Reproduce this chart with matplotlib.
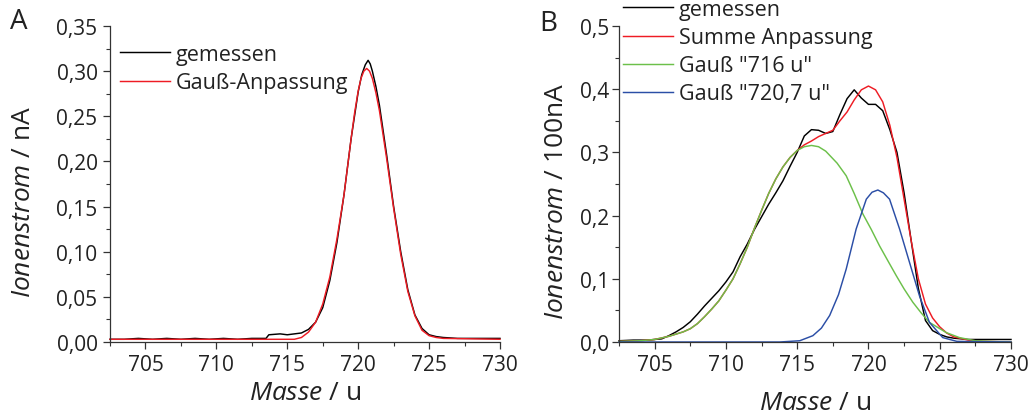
import matplotlib
matplotlib.use("Agg")
import matplotlib.pyplot as plt
from matplotlib.ticker import MultipleLocator, FixedLocator, FixedFormatter

plt.rcParams['font.family'] = ['Open Sans', 'DejaVu Sans']
plt.rcParams['mathtext.fontset'] = 'custom'
plt.rcParams['mathtext.rm'] = 'Open Sans'
plt.rcParams['mathtext.it'] = 'Open Sans:italic'

# ---------------- Panel A data ----------------
a_meas_x = [702.5, 703.5, 704.5, 705.5, 706.5, 707.5, 708.5, 709.5, 710.5, 711.5, 712.5, 713.5,
            713.7, 714.5, 715.0, 715.5, 716.0, 716.5, 717.0, 717.5, 718.0, 718.5, 719.0, 719.5,
            720.0, 720.25, 720.5, 720.7, 720.85, 721.0, 721.25, 721.5, 722.0, 722.5, 723.0, 723.5,
            724.0, 724.5, 725.0, 725.5, 726.0, 727.0, 728.0, 729.0, 730.0]
a_meas_y = [0.003, 0.003, 0.004, 0.003, 0.004, 0.003, 0.004, 0.003, 0.004, 0.003, 0.004, 0.004,
            0.008, 0.009, 0.008, 0.009, 0.010, 0.014, 0.022, 0.038, 0.068, 0.110, 0.163, 0.225,
            0.277, 0.296, 0.307, 0.312, 0.308, 0.300, 0.283, 0.262, 0.208, 0.150, 0.100, 0.058,
            0.030, 0.015, 0.008, 0.006, 0.005, 0.004, 0.004, 0.004, 0.004]

a_fit_x = [702.5, 710.0, 715.5, 716.0, 716.5, 717.0, 717.5, 718.0, 718.5, 719.0, 719.5, 719.75,
           720.0, 720.2, 720.4, 720.6, 720.8, 721.0, 721.25, 721.5, 722.0, 722.5, 723.0, 723.5,
           724.0, 724.5, 725.0, 725.5, 726.0, 730.0]
a_fit_y = [0.003, 0.003, 0.003, 0.005, 0.011, 0.022, 0.042, 0.072, 0.114, 0.163, 0.225, 0.254,
           0.278, 0.292, 0.300, 0.303, 0.300, 0.292, 0.276, 0.256, 0.204, 0.148, 0.097, 0.056,
           0.029, 0.013, 0.007, 0.005, 0.004, 0.003]

# ---------------- Panel B data ----------------
b_meas_x = [702.5, 703.5, 704.5, 705.5, 706.0, 706.5, 707.0, 707.5, 708.0, 708.5, 709.0, 709.5,
            710.0, 710.5, 711.0, 711.5, 712.0, 712.5, 713.0, 713.5, 714.0, 714.5, 715.0, 715.5,
            716.0, 716.5, 717.0, 717.5, 718.0, 718.5, 719.0, 719.5, 720.0, 720.5, 721.0, 721.5,
            722.0, 722.5, 723.0, 723.5, 724.0, 724.5, 725.0, 725.5, 726.0, 727.0, 728.0, 729.0, 730.0]
b_meas_y = [0.002, 0.003, 0.003, 0.005, 0.010, 0.016, 0.023, 0.032, 0.044, 0.057, 0.069, 0.081,
            0.095, 0.111, 0.135, 0.155, 0.178, 0.198, 0.218, 0.236, 0.255, 0.278, 0.300, 0.326,
            0.336, 0.335, 0.330, 0.333, 0.360, 0.385, 0.399, 0.386, 0.376, 0.376, 0.366, 0.336,
            0.300, 0.236, 0.160, 0.085, 0.034, 0.018, 0.012, 0.008, 0.006, 0.004, 0.004, 0.004, 0.004]

b_sum_x = [702.5, 704.0, 705.0, 706.0, 707.0, 707.5, 708.0, 708.5, 709.0, 709.5, 710.0, 710.5,
           711.0, 711.5, 712.0, 712.5, 713.0, 713.5, 714.0, 714.5, 715.0, 715.5, 716.0, 716.5,
           717.0, 717.5, 718.0, 718.5, 719.0, 719.5, 720.0, 720.5, 721.0, 721.5, 722.0, 722.5,
           723.0, 723.5, 724.0, 724.5, 725.0, 725.5, 726.0, 727.0, 728.0, 730.0]
b_sum_y = [0.001, 0.002, 0.004, 0.009, 0.016, 0.021, 0.029, 0.040, 0.052, 0.065, 0.082, 0.100,
           0.124, 0.150, 0.180, 0.208, 0.235, 0.258, 0.277, 0.292, 0.303, 0.312, 0.318, 0.325,
           0.330, 0.335, 0.350, 0.364, 0.383, 0.399, 0.405, 0.399, 0.380, 0.343, 0.292, 0.226,
           0.160, 0.100, 0.060, 0.038, 0.024, 0.014, 0.008, 0.003, 0.001, 0.000]

b_g1_x = [702.5, 704.0, 705.0, 706.0, 707.0, 707.5, 708.0, 708.5, 709.0, 709.5, 710.0, 710.5,
          711.0, 711.5, 712.0, 712.5, 713.0, 713.5, 714.0, 714.5, 715.0, 715.5, 716.0, 716.5,
          717.0, 717.8, 718.44, 719.0, 719.61, 720.2, 720.78, 721.4, 721.95, 722.5, 723.11,
          723.7, 724.28, 725.45, 726.38, 727.5, 729.0, 730.0]
b_g1_y = [0.001, 0.002, 0.004, 0.009, 0.016, 0.021, 0.029, 0.040, 0.052, 0.065, 0.082, 0.100,
          0.124, 0.150, 0.180, 0.208, 0.235, 0.258, 0.277, 0.292, 0.303, 0.309, 0.311, 0.309,
          0.302, 0.283, 0.263, 0.235, 0.2025, 0.178, 0.152, 0.127, 0.105, 0.084, 0.063,
          0.046, 0.031, 0.015, 0.007, 0.002, 0.0005, 0.0]

b_g2_x = [702.5, 713.77, 715.18, 716.1, 716.7, 717.28, 717.9, 718.44, 719.14, 719.85, 720.25,
          720.66, 721.05, 721.48, 722.18, 722.88, 723.58, 724.28, 725.21, 726.2, 730.0]
b_g2_y = [0.0, 0.0, 0.002, 0.010, 0.022, 0.042, 0.075, 0.1155, 0.179, 0.226, 0.237,
          0.2405, 0.236, 0.226, 0.179, 0.126, 0.073, 0.031, 0.007, 0.001, 0.0]

x_ticks = [705, 710, 715, 720, 725, 730]
x_tick_labels = ['705', '710', '715', '720', '725', '730']
a_y_ticks = [0.00, 0.05, 0.10, 0.15, 0.20, 0.25, 0.30, 0.35]
a_y_tick_labels = ['0,00', '0,05', '0,10', '0,15', '0,20', '0,25', '0,30', '0,35']
b_y_ticks = [0.0, 0.1, 0.2, 0.3, 0.4, 0.5]
b_y_tick_labels = ['0,0', '0,1', '0,2', '0,3', '0,4', '0,5']

labels_a = ['gemessen', 'Gauß-Anpassung']
labels_b = ['gemessen', 'Summe Anpassung', 'Gauß "716 u"', 'Gauß "720,7 u"']

BLACK = '#000000'
RED = '#ee1c24'
GREEN = '#6cc04a'
BLUE = '#2b4ea6'
AXC = '#333333'
TXT = '#222222'

W, H = 1031, 414
fig = plt.figure(figsize=(W / 100, H / 100), dpi=100)

def px_axes(x0, x1, y0, y1):
    return fig.add_axes([x0 / W, 1 - y1 / H, (x1 - x0) / W, (y1 - y0) / H])

axA = px_axes(110, 500, 27, 343)
axB = px_axes(619, 1011, 27, 343)

def style(ax, yticks, ylabels, ymax, yminor, ypad):
    for s in ['top', 'right']:
        ax.spines[s].set_visible(False)
    for s in ['left', 'bottom']:
        ax.spines[s].set_color(AXC)
        ax.spines[s].set_linewidth(0.9)
    ax.set_xlim(702.5, 730)
    ax.set_ylim(0, ymax)
    ax.xaxis.set_major_locator(FixedLocator(x_ticks))
    ax.xaxis.set_major_formatter(FixedFormatter(x_tick_labels))
    ax.xaxis.set_minor_locator(MultipleLocator(2.5))
    ax.yaxis.set_major_locator(FixedLocator(yticks))
    ax.yaxis.set_major_formatter(FixedFormatter(ylabels))
    ax.yaxis.set_minor_locator(MultipleLocator(yminor))
    ax.tick_params(which='major', direction='out', length=5, width=0.9, color=AXC,
                   labelsize=15, labelcolor=TXT)
    ax.tick_params(which='minor', direction='out', length=3, width=0.8, color=AXC)
    ax.tick_params(axis='y', which='major', pad=ypad)
    ax.tick_params(axis='x', which='major', pad=4)

style(axA, a_y_ticks, a_y_tick_labels, 0.35, 0.025, 4)
style(axB, b_y_ticks, b_y_tick_labels, 0.5, 0.05, 2)

lw = 1.05
axA.plot(a_meas_x, a_meas_y, color=BLACK, lw=lw, label=labels_a[0], clip_on=False)
axA.plot(a_fit_x, a_fit_y, color=RED, lw=lw, label=labels_a[1], clip_on=False)

axB.plot(b_meas_x, b_meas_y, color=BLACK, lw=lw, label=labels_b[0], clip_on=False)
axB.plot(b_sum_x, b_sum_y, color=RED, lw=lw, label=labels_b[1], clip_on=False)
axB.plot(b_g1_x, b_g1_y, color=GREEN, lw=lw, label=labels_b[2], clip_on=False)
axB.plot(b_g2_x, b_g2_y, color=BLUE, lw=lw, label=labels_b[3], clip_on=False)

leg_kw = dict(frameon=False, fontsize=15.5, handlelength=2.3, handletextpad=0.3,
              labelspacing=0.33, borderaxespad=0, borderpad=0)
legA = axA.legend(loc='upper left', bbox_to_anchor=(10 / 390, (343 - 45) / 316), **leg_kw)
legB = axB.legend(loc='upper left', bbox_to_anchor=(4 / 392, (343 - 0) / 316), **leg_kw)
for leg in (legA, legB):
    for t in leg.get_texts():
        t.set_color(TXT)

axA.set_ylabel(r'$\it{Ionenstrom}$ / nA', fontsize=19, color=TXT)
axA.yaxis.set_label_coords((36 - 110) / 390, 0.446)
axB.set_ylabel(r'$\it{Ionenstrom}$ / 100nA', fontsize=19, color=TXT)
axB.yaxis.set_label_coords((569 - 619) / 392, 0.449)
axA.set_xlabel(r'$\it{Masse}$ / u', fontsize=19, color=TXT)
axA.xaxis.set_label_coords(0.5, (343 - 381) / 316)
axB.set_xlabel(r'$\it{Masse}$ / u', fontsize=19, color=TXT)
axB.xaxis.set_label_coords(0.5, (343 - 391) / 316)

fig.text(19 / W, 1 - 22 / H, 'A', fontsize=20, ha='center', va='center', color=TXT)
fig.text(548 / W, 1 - 24 / H, 'B', fontsize=20, ha='center', va='center', color=TXT)

fig.savefig('out.png', dpi=100)
